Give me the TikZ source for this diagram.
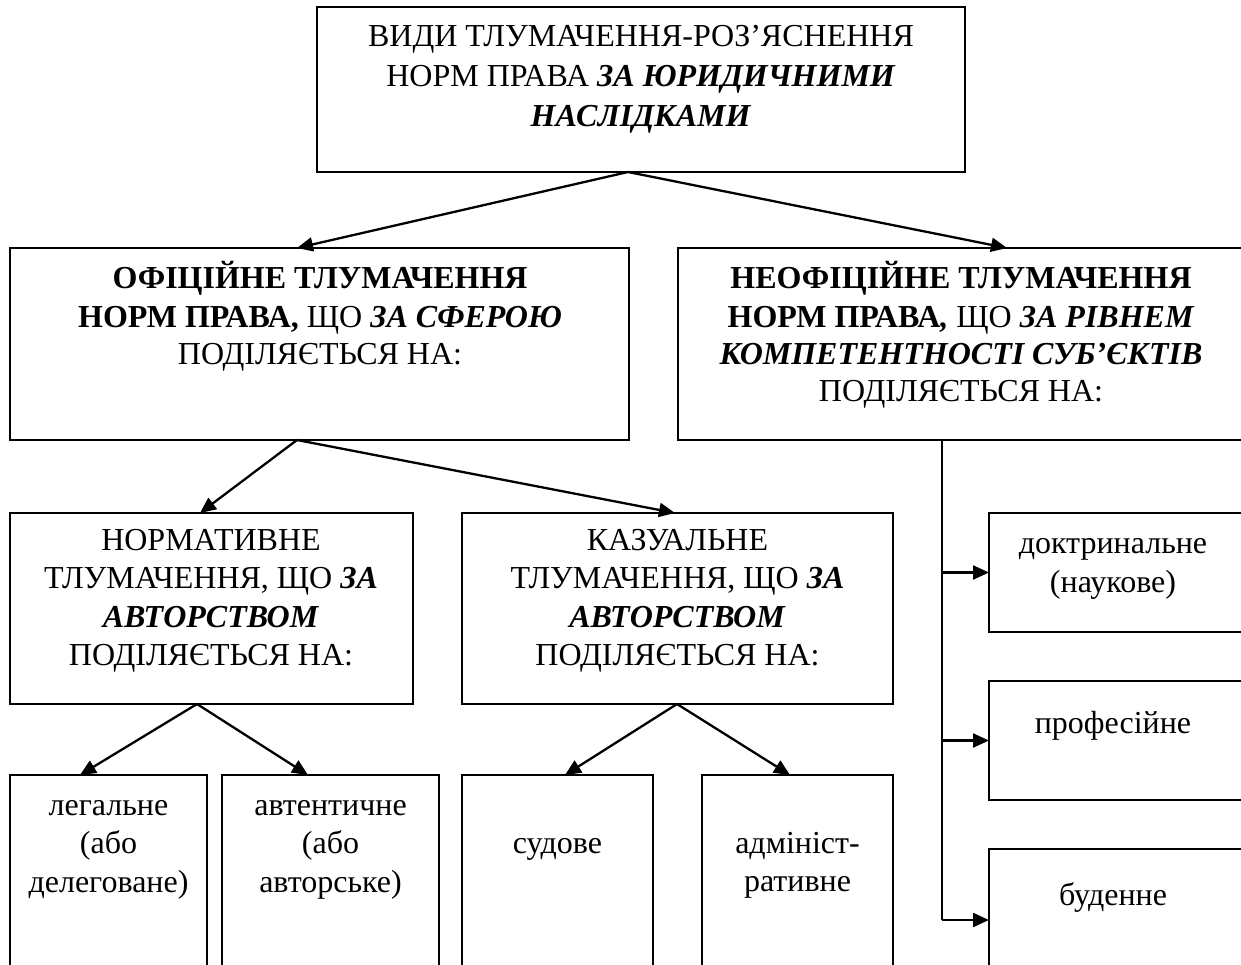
\documentclass[tikz,border=0pt]{standalone}
\usepackage{fontspec}
\setmainfont{Liberation Serif}
\usetikzlibrary{arrows.meta}
\newcommand\bfit[1]{\textbf{\textit{#1}}}
\begin{document}
\begin{tikzpicture}[x=1pt,y=-1pt,
  box/.style={draw=black,line width=1.6pt,inner sep=0pt,outer sep=0pt,anchor=north west,rectangle},
  txt/.style={anchor=base,inner sep=0pt,font=\fontsize{32}{38}\selectfont},
  arr/.style={line width=2.3pt,-{Triangle[length=16pt,width=14pt]}},
  conn/.style={line width=1.8pt}]
\useasboundingbox (0,0) rectangle (1241,965);
\clip (0,0) rectangle (1241,965);
\fill[white] (0,0) rectangle (1241,965);
% boxes
\node[box,minimum width=648pt,minimum height=165pt] (top) at (317,7) {};
\node[box,minimum width=619pt,minimum height=192pt] (off) at (10,248) {};
\node[box,minimum width=582pt,minimum height=192pt] (neoff) at (678,248) {};
\node[box,minimum width=403pt,minimum height=191pt] (norm) at (10,513) {};
\node[box,minimum width=431pt,minimum height=191pt] (kaz) at (462,513) {};
\node[box,minimum width=197pt,minimum height=205pt] (leg) at (10,775) {};
\node[box,minimum width=217pt,minimum height=205pt] (avt) at (222,775) {};
\node[box,minimum width=191pt,minimum height=205pt] (sud) at (462,775) {};
\node[box,minimum width=191pt,minimum height=205pt] (adm) at (702,775) {};
\node[box,minimum width=271pt,minimum height=119pt] (doc) at (989,513) {};
\node[box,minimum width=271pt,minimum height=119pt] (prof) at (989,681) {};
\node[box,minimum width=271pt,minimum height=131pt] (bud) at (989,849) {};
% texts
\node[txt] (t1) at (641,47) {ВИДИ ТЛУМАЧЕННЯ-РОЗ’ЯСНЕННЯ};
\node[txt] (t2) at (641,87) {НОРМ ПРАВА \bfit{ЗА ЮРИДИЧНИМИ}};
\node[txt] (t3) at (641,127) {\bfit{НАСЛІДКАМИ}};
\node[txt] (o1) at (320,289) {\textbf{ОФІЦІЙНЕ ТЛУМАЧЕННЯ}};
\node[txt] (o2) at (320,327) {\textbf{НОРМ ПРАВА,} ЩО \bfit{ЗА СФЕРОЮ}};
\node[txt] (o3) at (320,364) {ПОДІЛЯЄТЬСЯ НА:};
\node[txt] (n1) at (961,289) {\textbf{НЕОФІЦІЙНЕ ТЛУМАЧЕННЯ}};
\node[txt] (n2) at (961,327) {\textbf{НОРМ ПРАВА}\bfit{,} ЩО \bfit{ЗА РІВНЕМ}};
\node[txt] (n3) at (961,364) {\bfit{КОМПЕТЕНТНОСТІ СУБ’ЄКТІВ}};
\node[txt] (n4) at (961,401) {ПОДІЛЯЄТЬСЯ НА:};
\node[txt] (a1) at (211,550) {НОРМАТИВНЕ};
\node[txt] (a2) at (211,588) {ТЛУМАЧЕННЯ, ЩО \bfit{ЗА}};
\node[txt] (a3) at (211,627) {\bfit{АВТОРСТВОМ}};
\node[txt] (a4) at (211,665) {ПОДІЛЯЄТЬСЯ НА:};
\node[txt] (k1) at (677.5,550) {КАЗУАЛЬНЕ};
\node[txt] (k2) at (677.5,588) {ТЛУМАЧЕННЯ, ЩО \bfit{ЗА}};
\node[txt] (k3) at (677.5,627) {\bfit{АВТОРСТВОМ}};
\node[txt] (k4) at (677.5,665) {ПОДІЛЯЄТЬСЯ НА:};
\node[txt] (l1) at (108.5,815) {легальне};
\node[txt] (l2) at (108.5,853) {(або};
\node[txt] (l3) at (108.5,892) {делеговане)};
\node[txt] (v1) at (330.5,815) {автентичне};
\node[txt] (v2) at (330.5,853) {(або};
\node[txt] (v3) at (330.5,892) {авторське)};
\node[txt] (s1) at (557.5,853) {судове};
\node[txt] (d1) at (797.5,853) {адмініст-};
\node[txt] (d2) at (797.5,891) {ративне};
\node[txt] (r1) at (1113,553) {доктринальне};
\node[txt] (r2) at (1113,592) {(наукове)};
\node[txt] (p1) at (1113,733) {професійне};
\node[txt] (b1) at (1113,905) {буденне};
% connectors
\draw[arr] ([xshift=311pt]top.south west) -- ([xshift=287pt]off.north west);
\draw[arr] ([xshift=311pt]top.south west) -- ([xshift=329pt]neoff.north west);
\draw[arr] ([xshift=287pt]off.south west) -- ([xshift=190pt]norm.north west);
\draw[arr] ([xshift=287pt]off.south west) -- ([xshift=213pt]kaz.north west);
\draw[arr] ([xshift=187pt]norm.south west) -- ([xshift=70pt]leg.north west);
\draw[arr] ([xshift=187pt]norm.south west) -- ([xshift=86pt]avt.north west);
\draw[arr] ([xshift=215pt]kaz.south west) -- ([xshift=103pt]sud.north west);
\draw[arr] ([xshift=215pt]kaz.south west) -- ([xshift=88pt]adm.north west);
\coordinate (vtop) at ([xshift=264pt]neoff.south west);
\coordinate (vbot) at (vtop |- 0,920);
\draw[conn] (vtop) -- (vbot);
\draw[arr] (vtop |- doc.west) -- (doc.west);
\draw[arr] (vtop |- prof.west) -- (prof.west);
\draw[arr] (vbot) -- (vbot -| bud.west);
\end{tikzpicture}
\end{document}
